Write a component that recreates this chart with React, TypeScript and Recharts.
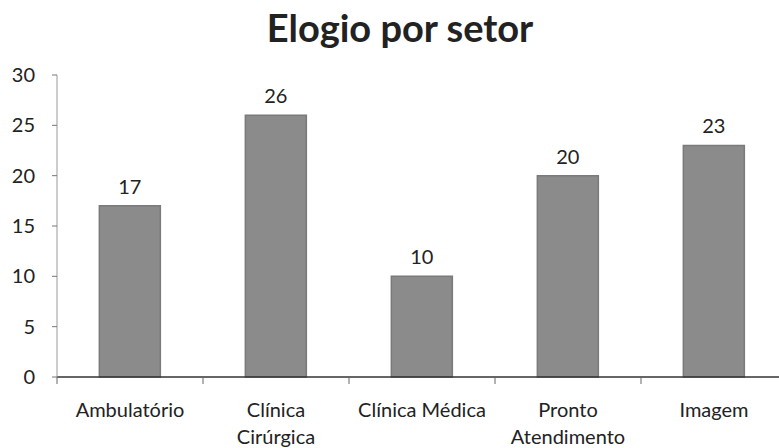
import React from 'react'
import { BarChart, Bar, XAxis, YAxis, LabelList } from 'recharts'

const SECTORS = ['Ambulatório', 'Clínica\nCirúrgica', 'Clínica Médica', 'Pronto\nAtendimento', 'Imagem']
const PRAISES = [17, 26, 10, 20, 23]
const Y_TICKS = [0, 5, 10, 15, 20, 25, 30]

const FONT = 'Lato, "Open Sans", sans-serif'

const data = SECTORS.map((name, i) => ({ name, value: PRAISES[i] }))

function SectorTick({ x, y, payload }: any) {
  const lines = String(payload.value).split('\n')
  const start = x - (payload.offset || 0)
  return (
    <g>
      <line x1={start} x2={start} y1={y - 8} y2={y - 1} stroke="#666" strokeWidth={1} />
      {lines.map((l, i) => (
        <text key={i} x={x} y={y + 32 + i * 27} textAnchor="middle" fontSize={20} fill="#222" fontFamily={FONT}>
          {l}
        </text>
      ))}
    </g>
  )
}

export default function App() {
  return (
    <div style={{ position: 'absolute', left: 0, top: 0, width: 779, height: 448, overflow: 'hidden', background: '#fff' }}>
      <svg width={800} height={60} style={{ position: 'absolute', left: 0, top: 0 }}>
        <text x={400} y={42} textAnchor="middle" fontSize={38} fontWeight={700} fill="#222" fontFamily={FONT}>
          Elogio por setor
        </text>
      </svg>
      <BarChart width={800} height={448} data={data} margin={{ top: 75, right: 13, left: 0, bottom: 0 }} barCategoryGap="29%">
        <XAxis
          dataKey="name"
          interval={0}
          height={71}
          tick={<SectorTick />}
          tickLine={false}
          axisLine={{ stroke: '#333', strokeWidth: 1.5 }}
        />
        <YAxis
          domain={[0, 30]}
          ticks={Y_TICKS}
          width={57}
          tickSize={5}
          tickMargin={17}
          tickLine={{ stroke: '#777' }}
          axisLine={{ stroke: '#999' }}
          tick={{ fontSize: 20, fill: '#222', fontFamily: FONT }}
        />
        <Bar dataKey="value" fill="#8b8b8b" stroke="#7a7a7a" strokeWidth={1.5} isAnimationActive={false}>
          <LabelList dataKey="value" position="top" offset={12} fontSize={20} fill="#222" fontFamily={FONT} />
        </Bar>
      </BarChart>
    </div>
  )
}
